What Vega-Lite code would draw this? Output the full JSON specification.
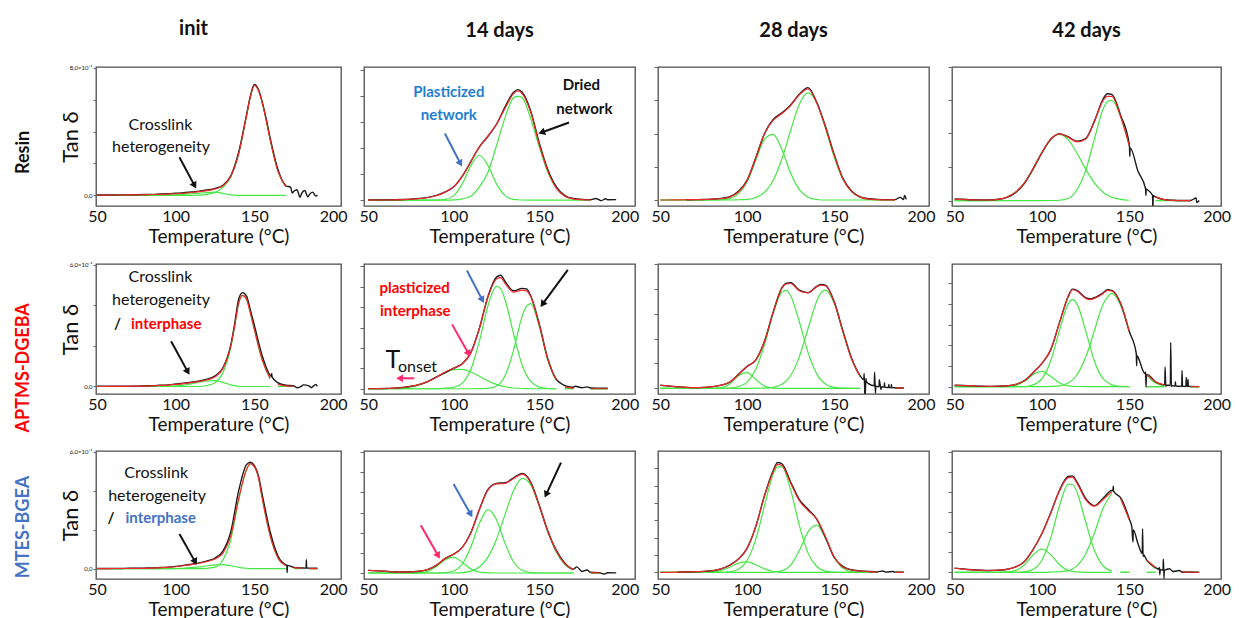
{
"$schema":"https://vega.github.io/schema/vega-lite/v6.json",
"background":"white",
"padding":{"left":14,"top":18,"right":4,"bottom":0},
"autosize":{"type":"pad"},
"bounds":"full",
"spacing":13,
"datasets":{
"curves":[
{"p":"11","T":50,"d":0.002,"f":0.001,"g1":0,"g2":0},{"p":"11","T":55,"d":0.002,"f":0.001,"g1":0,"g2":0},{"p":"11","T":60,"d":0.002,"f":0.002,"g1":0,"g2":0},{"p":"11","T":65,"d":0.003,"f":0.002,"g1":0,"g2":0},{"p":"11","T":70,"d":0.003,"f":0.003,"g1":0,"g2":0},{"p":"11","T":75,"d":0.004,"f":0.003,"g1":0,"g2":0},{"p":"11","T":80,"d":0.005,"f":0.004,"g1":0,"g2":0},{"p":"11","T":85,"d":0.006,"f":0.005,"g1":0,"g2":0},{"p":"11","T":90,"d":0.008,"f":0.006,"g1":0,"g2":0},{"p":"11","T":95,"d":0.01,"f":0.008,"g1":0.001,"g2":0},{"p":"11","T":100,"d":0.013,"f":0.01,"g1":0.003,"g2":0},{"p":"11","T":105,"d":0.016,"f":0.013,"g1":0.006,"g2":0},{"p":"11","T":110,"d":0.021,"f":0.018,"g1":0.01,"g2":0},{"p":"11","T":115,"d":0.026,"f":0.023,"g1":0.014,"g2":0.001},{"p":"11","T":120,"d":0.033,"f":0.03,"g1":0.017,"g2":0.006},{"p":"11","T":125,"d":0.043,"f":0.04,"g1":0.02,"g2":0.018},{"p":"11","T":130,"d":0.063,"f":0.06,"g1":0.012,"g2":0.05},{"p":"11","T":135,"d":0.122,"f":0.12,"g1":0.003,"g2":0.117},{"p":"11","T":140,"d":0.27,"f":0.26,"g1":0,"g2":0.26},{"p":"11","T":145,"d":0.505,"f":0.5,"g1":0,"g2":0.5},{"p":"11","T":147.5,"d":0.625,"f":0.62,"g1":0,"g2":0.62},{"p":"11","T":150,"d":0.695,"f":0.69,"g1":0,"g2":0.69},{"p":"11","T":152.5,"d":0.665,"f":0.66,"g1":0,"g2":0.66},{"p":"11","T":155,"d":0.585,"f":0.58,"g1":0,"g2":0.58},{"p":"11","T":157.5,"d":0.48,"f":0.47,"g1":0,"g2":0.47},{"p":"11","T":160,"d":0.36,"f":0.35,"g1":0,"g2":0.35},{"p":"11","T":165,"d":0.16,"f":0.15,"g1":0,"g2":0.15},{"p":"11","T":170,"d":0.06,"f":0.055,"g1":0,"g2":0.055},{"p":"11","T":173,"d":0.05},{"p":"11","T":174,"d":0.015},{"p":"11","T":175,"d":0.025,"f":0.022,"g1":0,"g2":0.022},{"p":"11","T":177,"d":0.035},{"p":"11","T":179,"d":-0.012},{"p":"11","T":180,"d":0.012,"f":0.008,"g1":0,"g2":0.008},{"p":"11","T":182,"d":0.03},{"p":"11","T":184,"d":-0.01},{"p":"11","T":185,"d":0.006,"f":0.003,"g1":0,"g2":0.003},{"p":"11","T":187,"d":0.02},{"p":"11","T":189,"d":-0.005},{"p":"11","T":190,"d":0.002,"f":0.001,"g1":0,"g2":0.001},
{"p":"12","T":50,"d":0.002,"f":0,"g1":0,"g2":0},{"p":"12","T":55,"d":0.002,"f":0.001,"g1":0,"g2":0},{"p":"12","T":60,"d":0.002,"f":0.001,"g1":0,"g2":0},{"p":"12","T":65,"d":0.003,"f":0.002,"g1":0,"g2":0},{"p":"12","T":70,"d":0.005,"f":0.004,"g1":0,"g2":0},{"p":"12","T":75,"d":0.008,"f":0.007,"g1":0,"g2":0},{"p":"12","T":80,"d":0.013,"f":0.012,"g1":0,"g2":0},{"p":"12","T":85,"d":0.021,"f":0.02,"g1":0,"g2":0},{"p":"12","T":90,"d":0.036,"f":0.035,"g1":0.001,"g2":0},{"p":"12","T":95,"d":0.062,"f":0.06,"g1":0.006,"g2":0},{"p":"12","T":100,"d":0.1,"f":0.1,"g1":0.034,"g2":0.002},{"p":"12","T":105,"d":0.18,"f":0.18,"g1":0.122,"g2":0.01},{"p":"12","T":110,"d":0.29,"f":0.29,"g1":0.26,"g2":0.03},{"p":"12","T":115,"d":0.4,"f":0.4,"g1":0.337,"g2":0.1},{"p":"12","T":120,"d":0.48,"f":0.48,"g1":0.26,"g2":0.21},{"p":"12","T":125,"d":0.57,"f":0.57,"g1":0.122,"g2":0.41},{"p":"12","T":130,"d":0.7,"f":0.69,"g1":0.034,"g2":0.62},{"p":"12","T":135,"d":0.81,"f":0.8,"g1":0.006,"g2":0.77},{"p":"12","T":137.5,"d":0.83,"f":0.82,"g1":0.003,"g2":0.78},{"p":"12","T":140,"d":0.81,"f":0.8,"g1":0.001,"g2":0.77},{"p":"12","T":145,"d":0.67,"f":0.66,"g1":0,"g2":0.61},{"p":"12","T":150,"d":0.43,"f":0.42,"g1":0,"g2":0.4},{"p":"12","T":155,"d":0.23,"f":0.22,"g1":0,"g2":0.21},{"p":"12","T":160,"d":0.1,"f":0.09,"g1":0,"g2":0.09},{"p":"12","T":165,"d":0.035,"f":0.03,"g1":0,"g2":0.03},{"p":"12","T":170,"d":0.012,"f":0.01,"g1":0,"g2":0.01},{"p":"12","T":175,"d":0.006,"f":0.004,"g1":0,"g2":0.003},{"p":"12","T":180,"d":0.004,"f":0.002,"g1":0,"g2":0.001},{"p":"12","T":183,"d":0.012},{"p":"12","T":185,"d":0.003,"f":0.001,"g1":0,"g2":0},{"p":"12","T":186,"d":-0.004},{"p":"12","T":189,"d":0.01},{"p":"12","T":190,"d":0.003,"f":0.001,"g1":0,"g2":0},{"p":"12","T":195,"d":0.004},
{"p":"13","T":50,"f":0,"g1":0,"g2":0},{"p":"13","T":55,"f":0,"g1":0,"g2":0},{"p":"13","T":60,"f":0.001,"g1":0,"g2":0},{"p":"13","T":65,"d":0.002,"f":0.002,"g1":0,"g2":0},{"p":"13","T":70,"d":0.003,"f":0.003,"g1":0,"g2":0},{"p":"13","T":75,"d":0.004,"f":0.004,"g1":0,"g2":0},{"p":"13","T":80,"d":0.007,"f":0.006,"g1":0,"g2":0},{"p":"13","T":85,"d":0.012,"f":0.01,"g1":0.002,"g2":0},{"p":"13","T":90,"d":0.025,"f":0.022,"g1":0.011,"g2":0},{"p":"13","T":95,"d":0.065,"f":0.06,"g1":0.046,"g2":0.002},{"p":"13","T":100,"d":0.15,"f":0.15,"g1":0.139,"g2":0.005},{"p":"13","T":105,"d":0.32,"f":0.32,"g1":0.3,"g2":0.019},{"p":"13","T":110,"d":0.5,"f":0.5,"g1":0.457,"g2":0.058},{"p":"13","T":115,"d":0.605,"f":0.6,"g1":0.493,"g2":0.149},{"p":"13","T":120,"d":0.655,"f":0.65,"g1":0.377,"g2":0.31},{"p":"13","T":125,"d":0.715,"f":0.71,"g1":0.203,"g2":0.523},{"p":"13","T":130,"d":0.795,"f":0.79,"g1":0.078,"g2":0.72},{"p":"13","T":135,"d":0.845,"f":0.835,"g1":0.021,"g2":0.805},{"p":"13","T":140,"d":0.735,"f":0.73,"g1":0.004,"g2":0.732},{"p":"13","T":145,"d":0.555,"f":0.55,"g1":0,"g2":0.541},{"p":"13","T":150,"d":0.345,"f":0.34,"g1":0,"g2":0.325},{"p":"13","T":155,"d":0.165,"f":0.16,"g1":0,"g2":0.159},{"p":"13","T":160,"d":0.068,"f":0.065,"g1":0,"g2":0.064},{"p":"13","T":165,"d":0.024,"f":0.022,"g1":0,"g2":0.02},{"p":"13","T":170,"d":0.009,"f":0.007,"g1":0,"g2":0.005},{"p":"13","T":175,"d":0.005,"f":0.003,"g1":0,"g2":0.001},{"p":"13","T":180,"d":0.003,"f":0.001,"g1":0,"g2":0},{"p":"13","T":185,"d":0.003,"f":0.001,"g1":0,"g2":0},{"p":"13","T":188,"d":0.02},{"p":"13","T":190,"d":0.004,"f":0,"g1":0,"g2":0},{"p":"13","T":190.5,"d":0.035},{"p":"13","T":191.5,"d":0.005},
{"p":"14","T":50,"d":0.013,"f":0.01,"g1":0,"g2":0},{"p":"14","T":55,"d":0.01,"f":0.008,"g1":0,"g2":0},{"p":"14","T":60,"d":0.007,"f":0.006,"g1":0,"g2":0},{"p":"14","T":65,"d":0.006,"f":0.005,"g1":0,"g2":0},{"p":"14","T":70,"d":0.006,"f":0.005,"g1":0.002,"g2":0},{"p":"14","T":75,"d":0.01,"f":0.01,"g1":0.009,"g2":0},{"p":"14","T":80,"d":0.025,"f":0.026,"g1":0.025,"g2":0},{"p":"14","T":85,"d":0.062,"f":0.064,"g1":0.063,"g2":0},{"p":"14","T":90,"d":0.13,"f":0.133,"g1":0.133,"g2":0},{"p":"14","T":95,"d":0.24,"f":0.24,"g1":0.236,"g2":0},{"p":"14","T":100,"d":0.36,"f":0.36,"g1":0.357,"g2":0},{"p":"14","T":105,"d":0.46,"f":0.46,"g1":0.456,"g2":0.001},{"p":"14","T":110,"d":0.5,"f":0.5,"g1":0.496,"g2":0.003},{"p":"14","T":115,"d":0.478,"f":0.475,"g1":0.456,"g2":0.016},{"p":"14","T":120,"d":0.445,"f":0.44,"g1":0.357,"g2":0.08},{"p":"14","T":125,"d":0.465,"f":0.46,"g1":0.236,"g2":0.225},{"p":"14","T":130,"d":0.595,"f":0.59,"g1":0.133,"g2":0.459},{"p":"14","T":135,"d":0.76,"f":0.75,"g1":0.063,"g2":0.685},{"p":"14","T":137.5,"d":0.8,"f":0.78,"g1":0.04,"g2":0.74},{"p":"14","T":140,"d":0.795,"f":0.78,"g1":0.025,"g2":0.75},{"p":"14","T":145,"d":0.64,"f":0.63,"g1":0.009,"g2":0.631},{"p":"14","T":150,"d":0.42,"f":0.41,"g1":0.003,"g2":0.41},{"p":"14","T":150.1,"d":0.405},{"p":"14","T":150.3,"d":0.33},{"p":"14","T":150.5,"d":0.395},{"p":"14","T":155,"d":0.22,"f":0.21,"g1":0.001,"g2":0.21},{"p":"14","T":159.3,"d":0.09},{"p":"14","T":159.5,"d":0.04},{"p":"14","T":159.7,"d":0.088},{"p":"14","T":160,"d":0.085,"f":0.085,"g1":0,"g2":0.083},{"p":"14","T":163.3,"d":0.04},{"p":"14","T":163.5,"d":-0.07},{"p":"14","T":163.7,"d":0.037},{"p":"14","T":165,"d":0.028,"f":0.028,"g1":0,"g2":0.026},{"p":"14","T":170,"d":0.008,"f":0.008,"g1":0,"g2":0.007},{"p":"14","T":175,"d":0.003,"f":0.002,"g1":0,"g2":0.002},{"p":"14","T":180,"d":0.001,"f":0,"g1":0,"g2":0},{"p":"14","T":185,"d":0.001,"f":0,"g1":0,"g2":0},{"p":"14","T":188.3,"d":0.02},{"p":"14","T":188.6,"d":-0.015},{"p":"14","T":190,"d":0.001,"f":0,"g1":0,"g2":0},
{"p":"21","T":50,"d":0.001,"f":0,"g1":0,"g2":0},{"p":"21","T":55,"d":0.001,"f":0,"g1":0,"g2":0},{"p":"21","T":60,"d":0.001,"f":0.001,"g1":0,"g2":0},{"p":"21","T":65,"d":0.001,"f":0.001,"g1":0,"g2":0},{"p":"21","T":70,"d":0.002,"f":0.001,"g1":0,"g2":0},{"p":"21","T":75,"d":0.002,"f":0.002,"g1":0,"g2":0},{"p":"21","T":80,"d":0.003,"f":0.002,"g1":0,"g2":0},{"p":"21","T":85,"d":0.004,"f":0.003,"g1":0,"g2":0},{"p":"21","T":90,"d":0.006,"f":0.005,"g1":0,"g2":0},{"p":"21","T":95,"d":0.008,"f":0.007,"g1":0.001,"g2":0},{"p":"21","T":100,"d":0.012,"f":0.01,"g1":0.003,"g2":0},{"p":"21","T":105,"d":0.016,"f":0.014,"g1":0.007,"g2":0},{"p":"21","T":110,"d":0.021,"f":0.019,"g1":0.013,"g2":0},{"p":"21","T":115,"d":0.027,"f":0.025,"g1":0.021,"g2":0},{"p":"21","T":120,"d":0.036,"f":0.033,"g1":0.028,"g2":0.005},{"p":"21","T":125,"d":0.052,"f":0.048,"g1":0.029,"g2":0.019},{"p":"21","T":130,"d":0.092,"f":0.088,"g1":0.02,"g2":0.068},{"p":"21","T":135,"d":0.205,"f":0.2,"g1":0.008,"g2":0.192},{"p":"21","T":137.5,"d":0.31,"f":0.3,"g1":0.004,"g2":0.296},{"p":"21","T":140,"d":0.43,"f":0.41,"g1":0.001,"g2":0.409},{"p":"21","T":142.5,"d":0.462,"f":0.449,"g1":0,"g2":0.449},{"p":"21","T":145,"d":0.445,"f":0.43,"g1":0,"g2":0.43},{"p":"21","T":147.5,"d":0.375,"f":0.36,"g1":0,"g2":0.36},{"p":"21","T":150,"d":0.3,"f":0.28,"g1":0,"g2":0.28},{"p":"21","T":155,"d":0.15,"f":0.13,"g1":0,"g2":0.13},{"p":"21","T":160,"d":0.055,"f":0.04,"g1":0,"g2":0.04},{"p":"21","T":160.8,"d":0.05},{"p":"21","T":161,"d":0.064},{"p":"21","T":161.2,"d":0.047},{"p":"21","T":165,"d":0.018,"f":0.01,"g1":0,"g2":0.01},{"p":"21","T":170,"d":0.006,"f":0.003,"g1":0,"g2":0.003},{"p":"21","T":175,"d":0.003,"f":0.001,"g1":0,"g2":0.001},{"p":"21","T":177,"d":-0.006},{"p":"21","T":180,"d":0.002,"f":0,"g1":0,"g2":0},{"p":"21","T":181,"d":0.008},{"p":"21","T":185,"d":0.002,"f":0,"g1":0,"g2":0},{"p":"21","T":186,"d":-0.006},{"p":"21","T":189,"d":0.01},{"p":"21","T":190,"d":0.001,"f":0,"g1":0,"g2":0},
{"p":"22","T":50,"d":0.001,"f":0,"g1":0,"g2":0,"g3":0},{"p":"22","T":55,"d":0.001,"f":0.001,"g1":0,"g2":0,"g3":0},{"p":"22","T":60,"d":0.002,"f":0.002,"g1":0.001,"g2":0,"g3":0},{"p":"22","T":65,"d":0.005,"f":0.005,"g1":0.002,"g2":0,"g3":0},{"p":"22","T":70,"d":0.01,"f":0.01,"g1":0.005,"g2":0,"g3":0},{"p":"22","T":75,"d":0.02,"f":0.02,"g1":0.014,"g2":0,"g3":0},{"p":"22","T":80,"d":0.035,"f":0.035,"g1":0.031,"g2":0,"g3":0},{"p":"22","T":85,"d":0.06,"f":0.06,"g1":0.058,"g2":0,"g3":0},{"p":"22","T":90,"d":0.095,"f":0.095,"g1":0.094,"g2":0,"g3":0},{"p":"22","T":95,"d":0.13,"f":0.135,"g1":0.129,"g2":0.005,"g3":0},{"p":"22","T":100,"d":0.165,"f":0.165,"g1":0.153,"g2":0.012,"g3":0},{"p":"22","T":105,"d":0.2,"f":0.2,"g1":0.155,"g2":0.045,"g3":0},{"p":"22","T":110,"d":0.29,"f":0.29,"g1":0.134,"g2":0.156,"g3":0},{"p":"22","T":115,"d":0.485,"f":0.485,"g1":0.1,"g2":0.382,"g3":0.001},{"p":"22","T":120,"d":0.74,"f":0.735,"g1":0.063,"g2":0.665,"g3":0.003},{"p":"22","T":125,"d":0.895,"f":0.88,"g1":0.035,"g2":0.82,"g3":0.022},{"p":"22","T":127.5,"d":0.91,"f":0.89,"g1":0.025,"g2":0.8,"g3":0.05},{"p":"22","T":130,"d":0.86,"f":0.845,"g1":0.016,"g2":0.713,"g3":0.104},{"p":"22","T":135,"d":0.785,"f":0.775,"g1":0.006,"g2":0.439,"g3":0.31},{"p":"22","T":140,"d":0.805,"f":0.79,"g1":0.002,"g2":0.191,"g3":0.582},{"p":"22","T":142.5,"d":0.8,"f":0.785,"g1":0.001,"g2":0.11,"g3":0.66},{"p":"22","T":145,"d":0.745,"f":0.74,"g1":0,"g2":0.059,"g3":0.682},{"p":"22","T":150,"d":0.52,"f":0.515,"g1":0,"g2":0.013,"g3":0.5},{"p":"22","T":155,"d":0.24,"f":0.235,"g1":0,"g2":0.002,"g3":0.23},{"p":"22","T":160,"d":0.075,"f":0.07,"g1":0,"g2":0,"g3":0.066},{"p":"22","T":163,"d":0.04},{"p":"22","T":165,"d":0.025,"f":0.015,"g1":0,"g2":0,"g3":0.012},{"p":"22","T":170,"d":0.012,"f":0.003,"g1":0,"g2":0,"g3":0.002},{"p":"22","T":171,"d":0.02},{"p":"22","T":175,"d":0.008,"f":0.001,"g1":0,"g2":0,"g3":0},{"p":"22","T":178,"d":0.015},{"p":"22","T":180,"d":0.006,"f":0,"g1":0,"g2":0,"g3":0},{"p":"22","T":185,"d":0.005,"f":0,"g1":0,"g2":0,"g3":0},{"p":"22","T":190,"d":0.004,"f":0,"g1":0,"g2":0,"g3":0},
{"p":"23","T":50,"d":0.024,"f":0.024,"g1":0,"g2":0,"g3":0},{"p":"23","T":55,"d":0.018,"f":0.018,"g1":0,"g2":0,"g3":0},{"p":"23","T":60,"d":0.012,"f":0.012,"g1":0,"g2":0,"g3":0},{"p":"23","T":65,"d":0.007,"f":0.007,"g1":0,"g2":0,"g3":0},{"p":"23","T":70,"d":0.005,"f":0.005,"g1":0,"g2":0,"g3":0},{"p":"23","T":75,"d":0.007,"f":0.007,"g1":0,"g2":0,"g3":0},{"p":"23","T":80,"d":0.013,"f":0.013,"g1":0,"g2":0,"g3":0},{"p":"23","T":85,"d":0.025,"f":0.025,"g1":0.005,"g2":0,"g3":0},{"p":"23","T":90,"d":0.05,"f":0.05,"g1":0.035,"g2":0.002,"g3":0},{"p":"23","T":95,"d":0.112,"f":0.112,"g1":0.1,"g2":0.012,"g3":0},{"p":"23","T":100,"d":0.176,"f":0.176,"g1":0.126,"g2":0.05,"g3":0},{"p":"23","T":105,"d":0.228,"f":0.228,"g1":0.07,"g2":0.155,"g3":0.001},{"p":"23","T":110,"d":0.38,"f":0.38,"g1":0.017,"g2":0.353,"g3":0.002},{"p":"23","T":115,"d":0.615,"f":0.615,"g1":0.002,"g2":0.605,"g3":0.008},{"p":"23","T":120,"d":0.81,"f":0.807,"g1":0,"g2":0.775,"g3":0.032},{"p":"23","T":122.5,"d":0.845,"f":0.84,"g1":0,"g2":0.788,"g3":0.059},{"p":"23","T":125,"d":0.85,"f":0.843,"g1":0,"g2":0.745,"g3":0.103},{"p":"23","T":130,"d":0.79,"f":0.785,"g1":0,"g2":0.535,"g3":0.253},{"p":"23","T":135,"d":0.77,"f":0.768,"g1":0,"g2":0.289,"g3":0.479},{"p":"23","T":140,"d":0.82,"f":0.816,"g1":0,"g2":0.116,"g3":0.7},{"p":"23","T":142.5,"d":0.835,"f":0.83,"g1":0,"g2":0.066,"g3":0.769},{"p":"23","T":145,"d":0.83,"f":0.825,"g1":0,"g2":0.035,"g3":0.79},{"p":"23","T":150,"d":0.7,"f":0.694,"g1":0,"g2":0.008,"g3":0.686},{"p":"23","T":155,"d":0.465,"f":0.46,"g1":0,"g2":0.001,"g3":0.46},{"p":"23","T":160,"d":0.245,"f":0.24,"g1":0,"g2":0,"g3":0.237},{"p":"23","T":165,"d":0.1,"f":0.097,"g1":0,"g2":0,"g3":0.094},{"p":"23","T":167.1,"d":0.07},{"p":"23","T":167.3,"d":0.12},{"p":"23","T":167.8,"d":-0.09},{"p":"23","T":168.3,"d":0.08},{"p":"23","T":168.5,"d":0.055},{"p":"23","T":170,"d":0.035,"f":0.033,"g1":0,"g2":0,"g3":0.029},{"p":"23","T":173.1,"d":0.02},{"p":"23","T":173.3,"d":0.13},{"p":"23","T":173.8,"d":-0.04},{"p":"23","T":174,"d":0.018},{"p":"23","T":175,"d":0.013,"f":0.012,"g1":0,"g2":0,"g3":0.007},{"p":"23","T":175.8,"d":0.012},{"p":"23","T":176,"d":0.07},{"p":"23","T":177,"d":-0.01},{"p":"23","T":177.2,"d":0.011},{"p":"23","T":178.8,"d":0.009},{"p":"23","T":179,"d":0.045},{"p":"23","T":179.2,"d":0.008},{"p":"23","T":180,"d":0.007,"f":0.006,"g1":0,"g2":0,"g3":0.001},{"p":"23","T":181.3,"d":0.006},{"p":"23","T":181.5,"d":0.03},{"p":"23","T":181.7,"d":0.006},{"p":"23","T":182.8,"d":0.005},{"p":"23","T":183,"d":0.03},{"p":"23","T":183.2,"d":0.005},{"p":"23","T":185,"d":0.004,"f":0.003,"g1":0,"g2":0,"g3":0},{"p":"23","T":190,"d":0.002,"f":0.001,"g1":0,"g2":0,"g3":0},
{"p":"24","T":50,"d":0.011,"f":0.011,"g1":0,"g2":0,"g3":0},{"p":"24","T":55,"d":0.009,"f":0.009,"g1":0,"g2":0,"g3":0},{"p":"24","T":60,"d":0.006,"f":0.006,"g1":0,"g2":0,"g3":0},{"p":"24","T":65,"d":0.003,"f":0.003,"g1":0,"g2":0,"g3":0},{"p":"24","T":70,"d":0.002,"f":0.002,"g1":0,"g2":0,"g3":0},{"p":"24","T":75,"d":0.003,"f":0.003,"g1":0,"g2":0,"g3":0},{"p":"24","T":80,"d":0.007,"f":0.007,"g1":0,"g2":0,"g3":0},{"p":"24","T":85,"d":0.018,"f":0.018,"g1":0.01,"g2":0,"g3":0},{"p":"24","T":90,"d":0.05,"f":0.05,"g1":0.044,"g2":0,"g3":0},{"p":"24","T":95,"d":0.115,"f":0.115,"g1":0.1,"g2":0.014,"g3":0},{"p":"24","T":100,"d":0.19,"f":0.19,"g1":0.124,"g2":0.065,"g3":0},{"p":"24","T":105,"d":0.3,"f":0.3,"g1":0.084,"g2":0.209,"g3":0.002},{"p":"24","T":110,"d":0.52,"f":0.52,"g1":0.031,"g2":0.457,"g3":0.007},{"p":"24","T":115,"d":0.735,"f":0.73,"g1":0.006,"g2":0.675,"g3":0.03},{"p":"24","T":117.5,"d":0.795,"f":0.79,"g1":0.002,"g2":0.709,"g3":0.055},{"p":"24","T":120,"d":0.785,"f":0.78,"g1":0.001,"g2":0.675,"g3":0.097},{"p":"24","T":125,"d":0.725,"f":0.72,"g1":0,"g2":0.457,"g3":0.24},{"p":"24","T":127.5,"d":0.715,"f":0.71,"g1":0,"g2":0.33,"g3":0.34},{"p":"24","T":130,"d":0.725,"f":0.72,"g1":0,"g2":0.209,"g3":0.457},{"p":"24","T":135,"d":0.765,"f":0.76,"g1":0,"g2":0.065,"g3":0.671},{"p":"24","T":137.5,"d":0.79,"f":0.785,"g1":0,"g2":0.035,"g3":0.73},{"p":"24","T":140,"d":0.785,"f":0.78,"g1":0,"g2":0.014,"g3":0.761},{"p":"24","T":145,"d":0.68,"f":0.68,"g1":0,"g2":0.002,"g3":0.665},{"p":"24","T":150,"d":0.45,"f":0.45,"g1":0,"g2":0,"g3":0.447},{"p":"24","T":154,"d":0.27},{"p":"24","T":154.2,"d":0.17},{"p":"24","T":154.4,"d":0.255},{"p":"24","T":155,"d":0.24,"f":0.24,"g1":0,"g2":0,"g3":0.232},{"p":"24","T":159.1,"d":0.105},{"p":"24","T":159.3,"d":0.12},{"p":"24","T":159.6,"d":-0.005},{"p":"24","T":159.8,"d":0.1},{"p":"24","T":160,"d":0.1,"f":0.1,"g1":0,"g2":0,"g3":0.093},{"p":"24","T":165,"d":0.04,"f":0.04,"g1":0,"g2":0,"g3":0.029},{"p":"24","T":170,"d":0.015,"f":0.015,"g1":0,"g2":0,"g3":0.007},{"p":"24","T":170.3,"d":0.015},{"p":"24","T":170.5,"d":0.16},{"p":"24","T":170.9,"d":0},{"p":"24","T":171.1,"d":0.014},{"p":"24","T":173.5,"d":0.008},{"p":"24","T":173.7,"d":0.36},{"p":"24","T":174.1,"d":0},{"p":"24","T":174.3,"d":0.008},{"p":"24","T":175,"d":0.006,"f":0.006,"g1":0,"g2":0,"g3":0.001},{"p":"24","T":176.2,"d":0.005},{"p":"24","T":176.4,"d":0.04},{"p":"24","T":176.6,"d":0.005},{"p":"24","T":180,"d":0.002,"f":0.002,"g1":0,"g2":0,"g3":0},{"p":"24","T":180.2,"d":0.13},{"p":"24","T":180.5,"d":0},{"p":"24","T":180.7,"d":0.002},{"p":"24","T":182.4,"d":0.002},{"p":"24","T":182.6,"d":0.075},{"p":"24","T":182.8,"d":0.002},{"p":"24","T":183.4,"d":0.002},{"p":"24","T":183.6,"d":0.06},{"p":"24","T":183.8,"d":0.002},{"p":"24","T":185,"d":0.001,"f":0.001,"g1":0,"g2":0,"g3":0},{"p":"24","T":190,"d":0,"f":0,"g1":0,"g2":0,"g3":0},
{"p":"31","T":50,"d":0.001,"f":0,"g1":0,"g2":0},{"p":"31","T":55,"d":0.001,"f":0,"g1":0,"g2":0},{"p":"31","T":60,"d":0.001,"f":0.001,"g1":0,"g2":0},{"p":"31","T":65,"d":0.001,"f":0.001,"g1":0,"g2":0},{"p":"31","T":70,"d":0.002,"f":0.001,"g1":0,"g2":0},{"p":"31","T":75,"d":0.002,"f":0.002,"g1":0,"g2":0},{"p":"31","T":80,"d":0.003,"f":0.002,"g1":0,"g2":0},{"p":"31","T":85,"d":0.004,"f":0.003,"g1":0,"g2":0},{"p":"31","T":90,"d":0.006,"f":0.005,"g1":0,"g2":0},{"p":"31","T":95,"d":0.008,"f":0.007,"g1":0,"g2":0},{"p":"31","T":100,"d":0.012,"f":0.01,"g1":0.001,"g2":0},{"p":"31","T":105,"d":0.017,"f":0.015,"g1":0.002,"g2":0},{"p":"31","T":110,"d":0.023,"f":0.021,"g1":0.005,"g2":0},{"p":"31","T":115,"d":0.03,"f":0.028,"g1":0.009,"g2":0},{"p":"31","T":120,"d":0.04,"f":0.037,"g1":0.015,"g2":0.002},{"p":"31","T":125,"d":0.055,"f":0.05,"g1":0.02,"g2":0.008},{"p":"31","T":130,"d":0.09,"f":0.08,"g1":0.021,"g2":0.045},{"p":"31","T":135,"d":0.19,"f":0.17,"g1":0.015,"g2":0.15},{"p":"31","T":140,"d":0.4,"f":0.36,"g1":0.007,"g2":0.353},{"p":"31","T":145,"d":0.535,"f":0.51,"g1":0.002,"g2":0.508},{"p":"31","T":147.5,"d":0.547,"f":0.54,"g1":0,"g2":0.54},{"p":"31","T":150,"d":0.53,"f":0.525,"g1":0,"g2":0.525},{"p":"31","T":152.5,"d":0.48,"f":0.47,"g1":0,"g2":0.47},{"p":"31","T":155,"d":0.38,"f":0.36,"g1":0,"g2":0.36},{"p":"31","T":160,"d":0.19,"f":0.17,"g1":0,"g2":0.17},{"p":"31","T":165,"d":0.065,"f":0.055,"g1":0,"g2":0.055},{"p":"31","T":170,"d":0.02,"f":0.016,"g1":0,"g2":0.016},{"p":"31","T":170.6,"d":0.018},{"p":"31","T":170.8,"d":-0.02},{"p":"31","T":171,"d":0.017},{"p":"31","T":175,"d":0.007,"f":0.005,"g1":0,"g2":0.005},{"p":"31","T":180,"d":0.004,"f":0.002,"g1":0,"g2":0.002},{"p":"31","T":182.8,"d":0.003},{"p":"31","T":183,"d":0.046},{"p":"31","T":183.2,"d":0.003},{"p":"31","T":185,"d":0.003,"f":0,"g1":0,"g2":0},{"p":"31","T":190,"d":0.002,"f":0,"g1":0,"g2":0},
{"p":"32","T":50,"d":0.022,"f":0.022,"g1":0,"g2":0,"g3":0},{"p":"32","T":55,"d":0.018,"f":0.018,"g1":0,"g2":0,"g3":0},{"p":"32","T":60,"d":0.014,"f":0.014,"g1":0,"g2":0,"g3":0},{"p":"32","T":65,"d":0.01,"f":0.01,"g1":0,"g2":0,"g3":0},{"p":"32","T":70,"d":0.008,"f":0.008,"g1":0,"g2":0,"g3":0},{"p":"32","T":75,"d":0.01,"f":0.01,"g1":0,"g2":0,"g3":0},{"p":"32","T":80,"d":0.015,"f":0.015,"g1":0.003,"g2":0,"g3":0},{"p":"32","T":85,"d":0.03,"f":0.03,"g1":0.016,"g2":0,"g3":0},{"p":"32","T":90,"d":0.065,"f":0.065,"g1":0.055,"g2":0,"g3":0},{"p":"32","T":95,"d":0.12,"f":0.12,"g1":0.11,"g2":0.003,"g3":0},{"p":"32","T":100,"d":0.155,"f":0.155,"g1":0.128,"g2":0.017,"g3":0},{"p":"32","T":105,"d":0.21,"f":0.21,"g1":0.087,"g2":0.074,"g3":0.003},{"p":"32","T":110,"d":0.33,"f":0.33,"g1":0.034,"g2":0.213,"g3":0.015},{"p":"32","T":115,"d":0.52,"f":0.52,"g1":0.008,"g2":0.408,"g3":0.05},{"p":"32","T":120,"d":0.685,"f":0.68,"g1":0.001,"g2":0.519,"g3":0.13},{"p":"32","T":125,"d":0.735,"f":0.73,"g1":0,"g2":0.436,"g3":0.277},{"p":"32","T":130,"d":0.74,"f":0.735,"g1":0,"g2":0.243,"g3":0.481},{"p":"32","T":135,"d":0.78,"f":0.775,"g1":0,"g2":0.09,"g3":0.677},{"p":"32","T":140,"d":0.815,"f":0.81,"g1":0,"g2":0.022,"g3":0.776},{"p":"32","T":145,"d":0.745,"f":0.74,"g1":0,"g2":0.004,"g3":0.723},{"p":"32","T":150,"d":0.555,"f":0.55,"g1":0,"g2":0,"g3":0.548},{"p":"32","T":155,"d":0.345,"f":0.34,"g1":0,"g2":0,"g3":0.338},{"p":"32","T":160,"d":0.185,"f":0.18,"g1":0,"g2":0,"g3":0.17},{"p":"32","T":165,"d":0.08,"f":0.075,"g1":0,"g2":0,"g3":0.069},{"p":"32","T":170,"d":0.032,"f":0.03,"g1":0,"g2":0,"g3":0.023},{"p":"32","T":172,"d":0.05},{"p":"32","T":175,"d":0.013,"f":0.012,"g1":0,"g2":0,"g3":0.006},{"p":"32","T":178,"d":0.025},{"p":"32","T":180,"d":0.006,"f":0.004,"g1":0,"g2":0,"g3":0.001},{"p":"32","T":185,"d":0.003,"f":0.001,"g1":0,"g2":0,"g3":0},{"p":"32","T":188,"d":-0.008},{"p":"32","T":190,"d":0.002,"f":0,"g1":0,"g2":0,"g3":0},{"p":"32","T":195,"d":0.001},
{"p":"33","T":50,"f":0.001,"g1":0,"g2":0,"g3":0},{"p":"33","T":55,"f":0.001,"g1":0,"g2":0,"g3":0},{"p":"33","T":60,"d":0.002,"f":0.002,"g1":0,"g2":0,"g3":0},{"p":"33","T":65,"d":0.004,"f":0.004,"g1":0,"g2":0,"g3":0},{"p":"33","T":70,"d":0.006,"f":0.006,"g1":0,"g2":0,"g3":0},{"p":"33","T":75,"d":0.009,"f":0.009,"g1":0,"g2":0,"g3":0},{"p":"33","T":80,"d":0.014,"f":0.014,"g1":0.003,"g2":0,"g3":0},{"p":"33","T":85,"d":0.03,"f":0.03,"g1":0.015,"g2":0,"g3":0},{"p":"33","T":90,"d":0.06,"f":0.06,"g1":0.043,"g2":0.005,"g3":0},{"p":"33","T":95,"d":0.11,"f":0.11,"g1":0.077,"g2":0.026,"g3":0},{"p":"33","T":100,"d":0.2,"f":0.2,"g1":0.087,"g2":0.1,"g3":0},{"p":"33","T":105,"d":0.38,"f":0.38,"g1":0.063,"g2":0.274,"g3":0},{"p":"33","T":110,"d":0.635,"f":0.63,"g1":0.029,"g2":0.552,"g3":0.001},{"p":"33","T":115,"d":0.84,"f":0.83,"g1":0.008,"g2":0.811,"g3":0.002},{"p":"33","T":117.5,"d":0.905,"f":0.89,"g1":0.004,"g2":0.87,"g3":0.006},{"p":"33","T":120,"d":0.895,"f":0.88,"g1":0.001,"g2":0.87,"g3":0.013},{"p":"33","T":125,"d":0.745,"f":0.735,"g1":0,"g2":0.68,"g3":0.06},{"p":"33","T":130,"d":0.6,"f":0.59,"g1":0,"g2":0.388,"g3":0.18},{"p":"33","T":135,"d":0.52,"f":0.51,"g1":0,"g2":0.161,"g3":0.334},{"p":"33","T":140,"d":0.44,"f":0.44,"g1":0,"g2":0.049,"g3":0.389},{"p":"33","T":145,"d":0.29,"f":0.295,"g1":0,"g2":0.011,"g3":0.282},{"p":"33","T":150,"d":0.125,"f":0.13,"g1":0,"g2":0.002,"g3":0.128},{"p":"33","T":155,"d":0.05,"f":0.045,"g1":0,"g2":0,"g3":0.036},{"p":"33","T":160,"d":0.022,"f":0.02,"g1":0,"g2":0,"g3":0.006},{"p":"33","T":165,"d":0.013,"f":0.012,"g1":0,"g2":0,"g3":0.001},{"p":"33","T":170,"d":0.008,"f":0.007,"g1":0,"g2":0,"g3":0},{"p":"33","T":175,"d":0.005,"f":0.004,"g1":0,"g2":0,"g3":0},{"p":"33","T":178,"d":0.012},{"p":"33","T":180,"d":0.003,"f":0.002,"g1":0,"g2":0,"g3":0},{"p":"33","T":184,"d":0.008},{"p":"33","T":185,"d":0.002,"f":0.001,"g1":0,"g2":0,"g3":0},{"p":"33","T":190,"d":0.001,"f":0,"g1":0,"g2":0,"g3":0},
{"p":"34","T":50,"d":0.035,"f":0.033,"g1":0,"g2":0,"g3":0},{"p":"34","T":55,"d":0.027,"f":0.026,"g1":0,"g2":0,"g3":0},{"p":"34","T":60,"d":0.021,"f":0.02,"g1":0,"g2":0,"g3":0},{"p":"34","T":65,"d":0.017,"f":0.017,"g1":0,"g2":0,"g3":0},{"p":"34","T":70,"d":0.015,"f":0.015,"g1":0,"g2":0,"g3":0},{"p":"34","T":75,"d":0.018,"f":0.018,"g1":0,"g2":0,"g3":0},{"p":"34","T":80,"d":0.025,"f":0.025,"g1":0.003,"g2":0,"g3":0},{"p":"34","T":85,"d":0.045,"f":0.045,"g1":0.016,"g2":0,"g3":0},{"p":"34","T":90,"d":0.09,"f":0.09,"g1":0.063,"g2":0.004,"g3":0},{"p":"34","T":95,"d":0.19,"f":0.19,"g1":0.145,"g2":0.025,"g3":0},{"p":"34","T":100,"d":0.32,"f":0.32,"g1":0.192,"g2":0.102,"g3":0},{"p":"34","T":105,"d":0.49,"f":0.49,"g1":0.145,"g2":0.284,"g3":0.002},{"p":"34","T":110,"d":0.675,"f":0.67,"g1":0.063,"g2":0.546,"g3":0.005},{"p":"34","T":115,"d":0.79,"f":0.78,"g1":0.016,"g2":0.725,"g3":0.014},{"p":"34","T":117.5,"d":0.795,"f":0.785,"g1":0.008,"g2":0.726,"g3":0.028},{"p":"34","T":120,"d":0.745,"f":0.735,"g1":0.003,"g2":0.663,"g3":0.053},{"p":"34","T":125,"d":0.61,"f":0.6,"g1":0,"g2":0.418,"g3":0.151},{"p":"34","T":130,"d":0.55,"f":0.545,"g1":0,"g2":0.182,"g3":0.324},{"p":"34","T":135,"d":0.61,"f":0.6,"g1":0,"g2":0.054,"g3":0.528},{"p":"34","T":140,"d":0.675,"f":0.665,"g1":0,"g2":0.011,"g3":0.652},{"p":"34","T":140.6,"d":0.672},{"p":"34","T":140.8,"d":0.71},{"p":"34","T":141,"d":0.668},{"p":"34","T":145,"d":0.615,"f":0.61,"g1":0,"g2":0.002,"g3":0.61},{"p":"34","T":150,"d":0.44,"f":0.435,"g1":0,"g2":0,"g3":0.433},{"p":"34","T":151.5,"d":0.37},{"p":"34","T":151.7,"d":0.32},{"p":"34","T":152.1,"d":0.25},{"p":"34","T":152.3,"d":0.35},{"p":"34","T":155,"d":0.235,"f":0.235,"g1":0,"g2":0,"g3":0.232},{"p":"34","T":157.4,"d":0.155},{"p":"34","T":157.6,"d":0.36},{"p":"34","T":157.9,"d":0.13},{"p":"34","T":158.1,"d":0.145},{"p":"34","T":160,"d":0.1,"f":0.1,"g1":0,"g2":0,"g3":0.095},{"p":"34","T":165,"d":0.04,"f":0.04,"g1":0,"g2":0,"g3":0.029},{"p":"34","T":167,"d":0.025},{"p":"34","T":167.2,"d":0.04},{"p":"34","T":167.5,"d":-0.02},{"p":"34","T":167.7,"d":0.024},{"p":"34","T":169.3,"d":0.018},{"p":"34","T":169.5,"d":0.11},{"p":"34","T":169.9,"d":-0.05},{"p":"34","T":170,"d":0.015,"f":0.015,"g1":0,"g2":0,"g3":0.007},{"p":"34","T":173,"d":0.03},{"p":"34","T":175,"d":0.007,"f":0.007,"g1":0,"g2":0,"g3":0.001},{"p":"34","T":178.8,"d":0.015},{"p":"34","T":180,"d":0.003,"f":0.003,"g1":0,"g2":0,"g3":0},{"p":"34","T":185,"d":0.001,"f":0.001,"g1":0,"g2":0,"g3":0},{"p":"34","T":190,"d":0,"f":0,"g1":0,"g2":0,"g3":0}
],
"notes":[
{"p":"11","T":90.3,"v":0.443,"t":"Crosslink","st":"n","k":"plain"},
{"p":"11","T":90.7,"v":0.3,"t":"heterogeneity","st":"n","k":"plain"},
{"p":"12","T":97.1,"v":0.81,"t":"Plasticized","st":"b","k":"network label"},
{"p":"12","T":97.1,"v":0.642,"t":"network","st":"b","k":"network label"},
{"p":"12","T":174.6,"v":0.863,"t":"Dried","st":"b","k":"plain"},
{"p":"12","T":176.4,"v":0.681,"t":"network","st":"b","k":"plain"},
{"p":"21","T":90.3,"v":0.541,"t":"Crosslink","st":"n","k":"plain"},
{"p":"21","T":90.7,"v":0.424,"t":"heterogeneity","st":"n","k":"plain"},
{"p":"21","T":63,"v":0.307,"t":"/","st":"b","k":"plain"},
{"p":"21","T":94,"v":0.307,"t":"interphase","st":"b","k":"APTMS"},
{"p":"22","T":77.1,"v":0.804,"t":"plasticized","st":"b","k":"APTMS"},
{"p":"22","T":77.5,"v":0.62,"t":"interphase","st":"b","k":"APTMS"},
{"p":"22","T":64.4,"v":0.228,"t":"T","st":"big","k":"plain"},
{"p":"22","T":78.8,"v":0.175,"t":"onset","st":"n","k":"plain"},
{"p":"31","T":87.6,"v":0.49,"t":"Crosslink","st":"n","k":"plain"},
{"p":"31","T":88.2,"v":0.375,"t":"heterogeneity","st":"n","k":"plain"},
{"p":"31","T":59,"v":0.26,"t":"/","st":"b","k":"plain"},
{"p":"31","T":90.5,"v":0.26,"t":"interphase","st":"b","k":"MTES"}
],
"arrows":[
{"p":"11","T":102.4,"v":0.239,"T2":112,"v2":0.061,"k":"plain"},
{"p":"12","T":94.8,"v":0.5,"T2":103.9,"v2":0.275,"k":"network"},
{"p":"12","T":167.4,"v":0.583,"T2":151.4,"v2":0.508,"k":"plain"},
{"p":"21","T":97.1,"v":0.223,"T2":107.7,"v2":0.072,"k":"plain"},
{"p":"22","T":99,"v":0.516,"T2":108.7,"v2":0.28,"k":"interphase arrow"},
{"p":"22","T":76.9,"v":0.084,"T2":68.3,"v2":0.084,"k":"interphase arrow"},
{"p":"22","T":107.7,"v":0.948,"T2":116.7,"v2":0.712,"k":"network"},
{"p":"22","T":166.7,"v":0.953,"T2":151.9,"v2":0.678,"k":"plain"},
{"p":"31","T":102.4,"v":0.178,"T2":112.4,"v2":0.035,"k":"plain"},
{"p":"32","T":80.7,"v":0.392,"T2":90.9,"v2":0.141,"k":"interphase arrow"},
{"p":"32","T":99.9,"v":0.73,"T2":109.9,"v2":0.481,"k":"network"},
{"p":"32","T":162.7,"v":0.905,"T2":154,"v2":0.643,"k":"plain"}
],
"heads":[
{"p":"11","T":112,"v":0.061,"k":"plain","ang":152},
{"p":"12","T":103.9,"v":0.275,"k":"network","ang":152},
{"p":"12","T":151.4,"v":0.508,"k":"plain","ang":251},
{"p":"21","T":107.7,"v":0.072,"k":"plain","ang":151},
{"p":"22","T":108.7,"v":0.28,"k":"interphase arrow","ang":151},
{"p":"22","T":68.3,"v":0.084,"k":"interphase arrow","ang":270},
{"p":"22","T":116.7,"v":0.712,"k":"network","ang":152},
{"p":"22","T":151.9,"v":0.678,"k":"plain","ang":216},
{"p":"31","T":112.4,"v":0.035,"k":"plain","ang":152},
{"p":"32","T":90.9,"v":0.141,"k":"interphase arrow","ang":151},
{"p":"32","T":109.9,"v":0.481,"k":"network","ang":151},
{"p":"32","T":154,"v":0.643,"k":"plain","ang":205}
]
},
"vconcat":[
{"title":{"text":"Resin","orient":"left","anchor":"middle","fontSize":18,"fontWeight":"bold","color":"#111111","offset":26,"dx":-20},
"bounds":"flush","spacing":23,
"hconcat":[
{"title":{"text":"init","fontSize":20,"fontWeight":"bold","offset":26,"anchor":"middle","color":"#111111","dx":-25},
"width":245,"height":139,
"encoding":{"x":{"field":"T","type":"quantitative","title":"Temperature (°C)","axis":{"values":[50,100,150,200]},"scale":{"domain":[49.4,205],"nice":false,"zero":false}},
"y":{"field":"v","type":"quantitative","title":"Tan δ","scale":{"domain":[-0.067,0.805],"nice":false,"zero":false},"axis":{"labels":true,"values":[0,0.2,0.4,0.6,0.8],"labelExpr":"datum.value==0?'0,0':(datum.value>0.79?'8,0×10⁻¹':'')","labelFontSize":6,"titleFontSize":22,"titlePadding":-13,"tickSize":3,"labelPadding":1}}},
"layer":[
{"data":{"name":"curves"},"transform":[{"filter":"datum.p=='11'"},{"fold":["g1","g2","g3"],"as":["s","v"]}],"mark":{"type":"line","stroke":"#46e646","strokeWidth":1.2,"interpolate":"monotone","clip":true},"encoding":{"detail":{"field":"s","type":"nominal"}}},
{"data":{"name":"curves"},"transform":[{"filter":"datum.p=='11'"},{"fold":["d"],"as":["s","v"]}],"mark":{"type":"line","stroke":"#1a1a1a","strokeWidth":1.4,"interpolate":"monotone","clip":true},"encoding":{}},
{"data":{"name":"curves"},"transform":[{"filter":"datum.p=='11'"},{"fold":["f"],"as":["s","v"]}],"mark":{"type":"line","stroke":"#f02a2a","strokeWidth":1.2,"interpolate":"monotone","clip":true},"encoding":{}},
{"data":{"name":"notes"},"transform":[{"filter":"datum.p=='11' && datum.st=='n'"}],"mark":{"type":"text","fontSize":16,"color":"#111111"},"encoding":{"text":{"field":"t"}}},
{"data":{"name":"arrows"},"transform":[{"filter":"datum.p=='11'"}],"mark":{"type":"rule","strokeWidth":2},"encoding":{"x2":{"field":"T2"},"y2":{"field":"v2"},"color":{"field":"k","type":"nominal","scale":{"domain":["plain","network label","network","APTMS","MTES","interphase arrow"],"range":["#111111","#1f80d0","#4472c4","#ff0000","#4472c4","#ff2a6d"]},"legend":null}}},
{"data":{"name":"heads"},"transform":[{"filter":"datum.p=='11'"}],"mark":{"type":"point","shape":"triangle-up","filled":true,"size":60,"opacity":1},"encoding":{"color":{"field":"k","type":"nominal","scale":{"domain":["plain","network label","network","APTMS","MTES","interphase arrow"],"range":["#111111","#1f80d0","#4472c4","#ff0000","#4472c4","#ff2a6d"]},"legend":null},"angle":{"field":"ang","type":"quantitative","scale":null}}}
]},
{"title":{"text":"14 days","fontSize":20,"fontWeight":"bold","offset":26,"anchor":"middle","color":"#111111"},
"width":271,"height":139,
"encoding":{"x":{"field":"T","type":"quantitative","title":"Temperature (°C)","axis":{"values":[50,100,150,200]},"scale":{"domain":[47.5,206],"nice":false,"zero":false}},
"y":{"field":"v","type":"quantitative","title":null,"scale":{"domain":[-0.044,1],"nice":false,"zero":false},"axis":{"values":[0,0.196,0.392,0.588,0.784,0.98]}}},
"layer":[
{"data":{"name":"curves"},"transform":[{"filter":"datum.p=='12'"},{"fold":["g1","g2","g3"],"as":["s","v"]}],"mark":{"type":"line","stroke":"#46e646","strokeWidth":1.2,"interpolate":"monotone","clip":true},"encoding":{"detail":{"field":"s","type":"nominal"}}},
{"data":{"name":"curves"},"transform":[{"filter":"datum.p=='12'"},{"fold":["d"],"as":["s","v"]}],"mark":{"type":"line","stroke":"#1a1a1a","strokeWidth":1.4,"interpolate":"monotone","clip":true},"encoding":{}},
{"data":{"name":"curves"},"transform":[{"filter":"datum.p=='12'"},{"fold":["f"],"as":["s","v"]}],"mark":{"type":"line","stroke":"#f02a2a","strokeWidth":1.2,"interpolate":"monotone","clip":true},"encoding":{}},
{"data":{"name":"notes"},"transform":[{"filter":"datum.p=='12' && datum.st=='b'"}],"mark":{"type":"text","fontSize":15,"fontWeight":"bold"},"encoding":{"text":{"field":"t"},"color":{"field":"k","type":"nominal","scale":{"domain":["plain","network label","network","APTMS","MTES","interphase arrow"],"range":["#111111","#1f80d0","#4472c4","#ff0000","#4472c4","#ff2a6d"]},"legend":null}}},
{"data":{"name":"arrows"},"transform":[{"filter":"datum.p=='12'"}],"mark":{"type":"rule","strokeWidth":2},"encoding":{"x2":{"field":"T2"},"y2":{"field":"v2"},"color":{"field":"k","type":"nominal","scale":{"domain":["plain","network label","network","APTMS","MTES","interphase arrow"],"range":["#111111","#1f80d0","#4472c4","#ff0000","#4472c4","#ff2a6d"]},"legend":null}}},
{"data":{"name":"heads"},"transform":[{"filter":"datum.p=='12'"}],"mark":{"type":"point","shape":"triangle-up","filled":true,"size":60,"opacity":1},"encoding":{"color":{"field":"k","type":"nominal","scale":{"domain":["plain","network label","network","APTMS","MTES","interphase arrow"],"range":["#111111","#1f80d0","#4472c4","#ff0000","#4472c4","#ff2a6d"]},"legend":null},"angle":{"field":"ang","type":"quantitative","scale":null}}}
]},
{"title":{"text":"28 days","fontSize":20,"fontWeight":"bold","offset":26,"anchor":"middle","color":"#111111"},
"width":271,"height":139,
"encoding":{"x":{"field":"T","type":"quantitative","title":"Temperature (°C)","axis":{"values":[50,100,150,200]},"scale":{"domain":[48.7,204.6],"nice":false,"zero":false}},
"y":{"field":"v","type":"quantitative","title":null,"scale":{"domain":[-0.045,1],"nice":false,"zero":false},"axis":{"values":[0,0.25,0.5,0.75,1]}}},
"layer":[
{"data":{"name":"curves"},"transform":[{"filter":"datum.p=='13'"},{"fold":["g1","g2","g3"],"as":["s","v"]}],"mark":{"type":"line","stroke":"#46e646","strokeWidth":1.2,"interpolate":"monotone","clip":true},"encoding":{"detail":{"field":"s","type":"nominal"}}},
{"data":{"name":"curves"},"transform":[{"filter":"datum.p=='13'"},{"fold":["d"],"as":["s","v"]}],"mark":{"type":"line","stroke":"#1a1a1a","strokeWidth":1.4,"interpolate":"monotone","clip":true},"encoding":{}},
{"data":{"name":"curves"},"transform":[{"filter":"datum.p=='13'"},{"fold":["f"],"as":["s","v"]}],"mark":{"type":"line","stroke":"#f02a2a","strokeWidth":1.2,"interpolate":"monotone","clip":true},"encoding":{}}
]},
{"title":{"text":"42 days","fontSize":20,"fontWeight":"bold","offset":26,"anchor":"middle","color":"#111111"},
"width":269,"height":139,
"encoding":{"x":{"field":"T","type":"quantitative","title":"Temperature (°C)","axis":{"values":[50,100,150,200]},"scale":{"domain":[48.5,202.5],"nice":false,"zero":false}},
"y":{"field":"v","type":"quantitative","title":null,"scale":{"domain":[-0.04,1],"nice":false,"zero":false},"axis":{"values":[0,0.252,0.504,0.756,1]}}},
"layer":[
{"data":{"name":"curves"},"transform":[{"filter":"datum.p=='14'"},{"fold":["g1","g2","g3"],"as":["s","v"]}],"mark":{"type":"line","stroke":"#46e646","strokeWidth":1.2,"interpolate":"monotone","clip":true},"encoding":{"detail":{"field":"s","type":"nominal"}}},
{"data":{"name":"curves"},"transform":[{"filter":"datum.p=='14'"},{"fold":["d"],"as":["s","v"]}],"mark":{"type":"line","stroke":"#1a1a1a","strokeWidth":1.4,"interpolate":"monotone","clip":true},"encoding":{}},
{"data":{"name":"curves"},"transform":[{"filter":"datum.p=='14'"},{"fold":["f"],"as":["s","v"]}],"mark":{"type":"line","stroke":"#f02a2a","strokeWidth":1.2,"interpolate":"monotone","clip":true},"encoding":{}}
]}
]},
{"title":{"text":"APTMS-DGEBA","orient":"left","anchor":"middle","fontSize":18,"fontWeight":"bold","color":"#ff0000","offset":26,"dx":-20},
"bounds":"flush","spacing":23,
"hconcat":[
{"width":245,"height":130,
"encoding":{"x":{"field":"T","type":"quantitative","title":"Temperature (°C)","axis":{"values":[50,100,150,200]},"scale":{"domain":[49.4,205],"nice":false,"zero":false}},
"y":{"field":"v","type":"quantitative","title":"Tan δ","scale":{"domain":[-0.037,0.603],"nice":false,"zero":false},"axis":{"labels":true,"values":[0,0.2,0.4,0.6],"labelExpr":"datum.value==0?'0,0':(datum.value>0.59?'6,0×10⁻¹':'')","labelFontSize":6,"titleFontSize":22,"titlePadding":-13,"tickSize":3,"labelPadding":1}}},
"layer":[
{"data":{"name":"curves"},"transform":[{"filter":"datum.p=='21'"},{"fold":["g1","g2","g3"],"as":["s","v"]}],"mark":{"type":"line","stroke":"#46e646","strokeWidth":1.2,"interpolate":"monotone","clip":true},"encoding":{"detail":{"field":"s","type":"nominal"}}},
{"data":{"name":"curves"},"transform":[{"filter":"datum.p=='21'"},{"fold":["d"],"as":["s","v"]}],"mark":{"type":"line","stroke":"#1a1a1a","strokeWidth":1.4,"interpolate":"monotone","clip":true},"encoding":{}},
{"data":{"name":"curves"},"transform":[{"filter":"datum.p=='21'"},{"fold":["f"],"as":["s","v"]}],"mark":{"type":"line","stroke":"#f02a2a","strokeWidth":1.2,"interpolate":"monotone","clip":true},"encoding":{}},
{"data":{"name":"notes"},"transform":[{"filter":"datum.p=='21' && datum.st=='n'"}],"mark":{"type":"text","fontSize":16,"color":"#111111"},"encoding":{"text":{"field":"t"}}},
{"data":{"name":"notes"},"transform":[{"filter":"datum.p=='21' && datum.st=='b'"}],"mark":{"type":"text","fontSize":15,"fontWeight":"bold"},"encoding":{"text":{"field":"t"},"color":{"field":"k","type":"nominal","scale":{"domain":["plain","network label","network","APTMS","MTES","interphase arrow"],"range":["#111111","#1f80d0","#4472c4","#ff0000","#4472c4","#ff2a6d"]},"legend":null}}},
{"data":{"name":"arrows"},"transform":[{"filter":"datum.p=='21'"}],"mark":{"type":"rule","strokeWidth":2},"encoding":{"x2":{"field":"T2"},"y2":{"field":"v2"},"color":{"field":"k","type":"nominal","scale":{"domain":["plain","network label","network","APTMS","MTES","interphase arrow"],"range":["#111111","#1f80d0","#4472c4","#ff0000","#4472c4","#ff2a6d"]},"legend":null}}},
{"data":{"name":"heads"},"transform":[{"filter":"datum.p=='21'"}],"mark":{"type":"point","shape":"triangle-up","filled":true,"size":60,"opacity":1},"encoding":{"color":{"field":"k","type":"nominal","scale":{"domain":["plain","network label","network","APTMS","MTES","interphase arrow"],"range":["#111111","#1f80d0","#4472c4","#ff0000","#4472c4","#ff2a6d"]},"legend":null},"angle":{"field":"ang","type":"quantitative","scale":null}}}
]},
{"width":271,"height":130,
"encoding":{"x":{"field":"T","type":"quantitative","title":"Temperature (°C)","axis":{"values":[50,100,150,200]},"scale":{"domain":[47.5,206],"nice":false,"zero":false}},
"y":{"field":"v","type":"quantitative","title":null,"scale":{"domain":[-0.042,1],"nice":false,"zero":false},"axis":{"values":[0,0.163,0.327,0.49,0.653,0.817,0.98]}}},
"layer":[
{"data":{"name":"curves"},"transform":[{"filter":"datum.p=='22'"},{"fold":["g1","g2","g3"],"as":["s","v"]}],"mark":{"type":"line","stroke":"#46e646","strokeWidth":1.2,"interpolate":"monotone","clip":true},"encoding":{"detail":{"field":"s","type":"nominal"}}},
{"data":{"name":"curves"},"transform":[{"filter":"datum.p=='22'"},{"fold":["d"],"as":["s","v"]}],"mark":{"type":"line","stroke":"#1a1a1a","strokeWidth":1.4,"interpolate":"monotone","clip":true},"encoding":{}},
{"data":{"name":"curves"},"transform":[{"filter":"datum.p=='22'"},{"fold":["f"],"as":["s","v"]}],"mark":{"type":"line","stroke":"#f02a2a","strokeWidth":1.2,"interpolate":"monotone","clip":true},"encoding":{}},
{"data":{"name":"notes"},"transform":[{"filter":"datum.p=='22' && datum.st=='n'"}],"mark":{"type":"text","fontSize":16,"color":"#111111"},"encoding":{"text":{"field":"t"}}},
{"data":{"name":"notes"},"transform":[{"filter":"datum.p=='22' && datum.st=='big'"}],"mark":{"type":"text","fontSize":25,"color":"#111111"},"encoding":{"text":{"field":"t"}}},
{"data":{"name":"notes"},"transform":[{"filter":"datum.p=='22' && datum.st=='b'"}],"mark":{"type":"text","fontSize":15,"fontWeight":"bold"},"encoding":{"text":{"field":"t"},"color":{"field":"k","type":"nominal","scale":{"domain":["plain","network label","network","APTMS","MTES","interphase arrow"],"range":["#111111","#1f80d0","#4472c4","#ff0000","#4472c4","#ff2a6d"]},"legend":null}}},
{"data":{"name":"arrows"},"transform":[{"filter":"datum.p=='22'"}],"mark":{"type":"rule","strokeWidth":2},"encoding":{"x2":{"field":"T2"},"y2":{"field":"v2"},"color":{"field":"k","type":"nominal","scale":{"domain":["plain","network label","network","APTMS","MTES","interphase arrow"],"range":["#111111","#1f80d0","#4472c4","#ff0000","#4472c4","#ff2a6d"]},"legend":null}}},
{"data":{"name":"heads"},"transform":[{"filter":"datum.p=='22'"}],"mark":{"type":"point","shape":"triangle-up","filled":true,"size":60,"opacity":1},"encoding":{"color":{"field":"k","type":"nominal","scale":{"domain":["plain","network label","network","APTMS","MTES","interphase arrow"],"range":["#111111","#1f80d0","#4472c4","#ff0000","#4472c4","#ff2a6d"]},"legend":null},"angle":{"field":"ang","type":"quantitative","scale":null}}}
]},
{"width":271,"height":130,
"encoding":{"x":{"field":"T","type":"quantitative","title":"Temperature (°C)","axis":{"values":[50,100,150,200]},"scale":{"domain":[48.7,204.6],"nice":false,"zero":false}},
"y":{"field":"v","type":"quantitative","title":null,"scale":{"domain":[-0.046,1],"nice":false,"zero":false},"axis":{"values":[0,0.2,0.4,0.6,0.8,1]}}},
"layer":[
{"data":{"name":"curves"},"transform":[{"filter":"datum.p=='23'"},{"fold":["g1","g2","g3"],"as":["s","v"]}],"mark":{"type":"line","stroke":"#46e646","strokeWidth":1.2,"interpolate":"monotone","clip":true},"encoding":{"detail":{"field":"s","type":"nominal"}}},
{"data":{"name":"curves"},"transform":[{"filter":"datum.p=='23'"},{"fold":["d"],"as":["s","v"]}],"mark":{"type":"line","stroke":"#1a1a1a","strokeWidth":1.4,"interpolate":"monotone","clip":true},"encoding":{}},
{"data":{"name":"curves"},"transform":[{"filter":"datum.p=='23'"},{"fold":["f"],"as":["s","v"]}],"mark":{"type":"line","stroke":"#f02a2a","strokeWidth":1.2,"interpolate":"monotone","clip":true},"encoding":{}}
]},
{"width":269,"height":130,
"encoding":{"x":{"field":"T","type":"quantitative","title":"Temperature (°C)","axis":{"values":[50,100,150,200]},"scale":{"domain":[48.5,202.5],"nice":false,"zero":false}},
"y":{"field":"v","type":"quantitative","title":null,"scale":{"domain":[-0.06,1],"nice":false,"zero":false},"axis":{"values":[0,0.168,0.337,0.505,0.674,0.842]}}},
"layer":[
{"data":{"name":"curves"},"transform":[{"filter":"datum.p=='24'"},{"fold":["g1","g2","g3"],"as":["s","v"]}],"mark":{"type":"line","stroke":"#46e646","strokeWidth":1.2,"interpolate":"monotone","clip":true},"encoding":{"detail":{"field":"s","type":"nominal"}}},
{"data":{"name":"curves"},"transform":[{"filter":"datum.p=='24'"},{"fold":["d"],"as":["s","v"]}],"mark":{"type":"line","stroke":"#1a1a1a","strokeWidth":1.4,"interpolate":"monotone","clip":true},"encoding":{}},
{"data":{"name":"curves"},"transform":[{"filter":"datum.p=='24'"},{"fold":["f"],"as":["s","v"]}],"mark":{"type":"line","stroke":"#f02a2a","strokeWidth":1.2,"interpolate":"monotone","clip":true},"encoding":{}}
]}
]},
{"title":{"text":"MTES-BGEA","orient":"left","anchor":"middle","fontSize":18,"fontWeight":"bold","color":"#4472c4","offset":26,"dx":7},
"bounds":"flush","spacing":23,
"hconcat":[
{"width":245,"height":128,
"encoding":{"x":{"field":"T","type":"quantitative","title":"Temperature (°C)","axis":{"values":[50,100,150,200]},"scale":{"domain":[49.4,205],"nice":false,"zero":false}},
"y":{"field":"v","type":"quantitative","title":"Tan δ","scale":{"domain":[-0.053,0.605],"nice":false,"zero":false},"axis":{"labels":true,"values":[0,0.2,0.4,0.6],"labelExpr":"datum.value==0?'0,0':(datum.value>0.59?'6,0×10⁻¹':'')","labelFontSize":6,"titleFontSize":22,"titlePadding":-13,"tickSize":3,"labelPadding":1}}},
"layer":[
{"data":{"name":"curves"},"transform":[{"filter":"datum.p=='31'"},{"fold":["g1","g2","g3"],"as":["s","v"]}],"mark":{"type":"line","stroke":"#46e646","strokeWidth":1.2,"interpolate":"monotone","clip":true},"encoding":{"detail":{"field":"s","type":"nominal"}}},
{"data":{"name":"curves"},"transform":[{"filter":"datum.p=='31'"},{"fold":["d"],"as":["s","v"]}],"mark":{"type":"line","stroke":"#1a1a1a","strokeWidth":1.4,"interpolate":"monotone","clip":true},"encoding":{}},
{"data":{"name":"curves"},"transform":[{"filter":"datum.p=='31'"},{"fold":["f"],"as":["s","v"]}],"mark":{"type":"line","stroke":"#f02a2a","strokeWidth":1.2,"interpolate":"monotone","clip":true},"encoding":{}},
{"data":{"name":"notes"},"transform":[{"filter":"datum.p=='31' && datum.st=='n'"}],"mark":{"type":"text","fontSize":16,"color":"#111111"},"encoding":{"text":{"field":"t"}}},
{"data":{"name":"notes"},"transform":[{"filter":"datum.p=='31' && datum.st=='b'"}],"mark":{"type":"text","fontSize":15,"fontWeight":"bold"},"encoding":{"text":{"field":"t"},"color":{"field":"k","type":"nominal","scale":{"domain":["plain","network label","network","APTMS","MTES","interphase arrow"],"range":["#111111","#1f80d0","#4472c4","#ff0000","#4472c4","#ff2a6d"]},"legend":null}}},
{"data":{"name":"arrows"},"transform":[{"filter":"datum.p=='31'"}],"mark":{"type":"rule","strokeWidth":2},"encoding":{"x2":{"field":"T2"},"y2":{"field":"v2"},"color":{"field":"k","type":"nominal","scale":{"domain":["plain","network label","network","APTMS","MTES","interphase arrow"],"range":["#111111","#1f80d0","#4472c4","#ff0000","#4472c4","#ff2a6d"]},"legend":null}}},
{"data":{"name":"heads"},"transform":[{"filter":"datum.p=='31'"}],"mark":{"type":"point","shape":"triangle-up","filled":true,"size":60,"opacity":1},"encoding":{"color":{"field":"k","type":"nominal","scale":{"domain":["plain","network label","network","APTMS","MTES","interphase arrow"],"range":["#111111","#1f80d0","#4472c4","#ff0000","#4472c4","#ff2a6d"]},"legend":null},"angle":{"field":"ang","type":"quantitative","scale":null}}}
]},
{"width":271,"height":128,
"encoding":{"x":{"field":"T","type":"quantitative","title":"Temperature (°C)","axis":{"values":[50,100,150,200]},"scale":{"domain":[47.5,206],"nice":false,"zero":false}},
"y":{"field":"v","type":"quantitative","title":null,"scale":{"domain":[-0.049,1],"nice":false,"zero":false},"axis":{"values":[0,0.165,0.33,0.495,0.66,0.825,0.99]}}},
"layer":[
{"data":{"name":"curves"},"transform":[{"filter":"datum.p=='32'"},{"fold":["g1","g2","g3"],"as":["s","v"]}],"mark":{"type":"line","stroke":"#46e646","strokeWidth":1.2,"interpolate":"monotone","clip":true},"encoding":{"detail":{"field":"s","type":"nominal"}}},
{"data":{"name":"curves"},"transform":[{"filter":"datum.p=='32'"},{"fold":["d"],"as":["s","v"]}],"mark":{"type":"line","stroke":"#1a1a1a","strokeWidth":1.4,"interpolate":"monotone","clip":true},"encoding":{}},
{"data":{"name":"curves"},"transform":[{"filter":"datum.p=='32'"},{"fold":["f"],"as":["s","v"]}],"mark":{"type":"line","stroke":"#f02a2a","strokeWidth":1.2,"interpolate":"monotone","clip":true},"encoding":{}},
{"data":{"name":"arrows"},"transform":[{"filter":"datum.p=='32'"}],"mark":{"type":"rule","strokeWidth":2},"encoding":{"x2":{"field":"T2"},"y2":{"field":"v2"},"color":{"field":"k","type":"nominal","scale":{"domain":["plain","network label","network","APTMS","MTES","interphase arrow"],"range":["#111111","#1f80d0","#4472c4","#ff0000","#4472c4","#ff2a6d"]},"legend":null}}},
{"data":{"name":"heads"},"transform":[{"filter":"datum.p=='32'"}],"mark":{"type":"point","shape":"triangle-up","filled":true,"size":60,"opacity":1},"encoding":{"color":{"field":"k","type":"nominal","scale":{"domain":["plain","network label","network","APTMS","MTES","interphase arrow"],"range":["#111111","#1f80d0","#4472c4","#ff0000","#4472c4","#ff2a6d"]},"legend":null},"angle":{"field":"ang","type":"quantitative","scale":null}}}
]},
{"width":271,"height":128,
"encoding":{"x":{"field":"T","type":"quantitative","title":"Temperature (°C)","axis":{"values":[50,100,150,200]},"scale":{"domain":[48.7,204.6],"nice":false,"zero":false}},
"y":{"field":"v","type":"quantitative","title":null,"scale":{"domain":[-0.054,1],"nice":false,"zero":false},"axis":{"values":[0,0.143,0.286,0.429,0.572,0.715,0.858]}}},
"layer":[
{"data":{"name":"curves"},"transform":[{"filter":"datum.p=='33'"},{"fold":["g1","g2","g3"],"as":["s","v"]}],"mark":{"type":"line","stroke":"#46e646","strokeWidth":1.2,"interpolate":"monotone","clip":true},"encoding":{"detail":{"field":"s","type":"nominal"}}},
{"data":{"name":"curves"},"transform":[{"filter":"datum.p=='33'"},{"fold":["d"],"as":["s","v"]}],"mark":{"type":"line","stroke":"#1a1a1a","strokeWidth":1.4,"interpolate":"monotone","clip":true},"encoding":{}},
{"data":{"name":"curves"},"transform":[{"filter":"datum.p=='33'"},{"fold":["f"],"as":["s","v"]}],"mark":{"type":"line","stroke":"#f02a2a","strokeWidth":1.2,"interpolate":"monotone","clip":true},"encoding":{}}
]},
{"width":269,"height":128,
"encoding":{"x":{"field":"T","type":"quantitative","title":"Temperature (°C)","axis":{"values":[50,100,150,200]},"scale":{"domain":[48.5,202.5],"nice":false,"zero":false}},
"y":{"field":"v","type":"quantitative","title":null,"scale":{"domain":[-0.055,1],"nice":false,"zero":false},"axis":{"values":[0,0.165,0.33,0.495,0.66,0.825,0.99]}}},
"layer":[
{"data":{"name":"curves"},"transform":[{"filter":"datum.p=='34'"},{"fold":["g1","g2","g3"],"as":["s","v"]}],"mark":{"type":"line","stroke":"#46e646","strokeWidth":1.2,"interpolate":"monotone","clip":true},"encoding":{"detail":{"field":"s","type":"nominal"}}},
{"data":{"name":"curves"},"transform":[{"filter":"datum.p=='34'"},{"fold":["d"],"as":["s","v"]}],"mark":{"type":"line","stroke":"#1a1a1a","strokeWidth":1.4,"interpolate":"monotone","clip":true},"encoding":{}},
{"data":{"name":"curves"},"transform":[{"filter":"datum.p=='34'"},{"fold":["f"],"as":["s","v"]}],"mark":{"type":"line","stroke":"#f02a2a","strokeWidth":1.2,"interpolate":"monotone","clip":true},"encoding":{}}
]}
]}
],
"config":{
"font":"Lato",
"view":{"stroke":"#4d4d4d","strokeWidth":1.3},
"axis":{"domain":false,"grid":false,"labelFlush":false,"labelColor":"#111111","titleColor":"#111111","titleFontWeight":"normal","tickColor":"#666666","labelOverlap":false},
"axisX":{"ticks":false,"labelFontSize":16,"titleFontSize":19,"labelPadding":2,"titlePadding":3},
"axisY":{"labels":false,"tickSize":4}
}
}
